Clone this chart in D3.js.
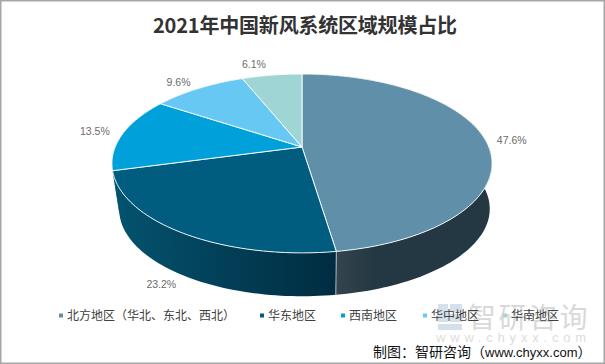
<!DOCTYPE html>
<html>
<head>
<meta charset="utf-8">
<script src="https://cdn.jsdelivr.net/npm/d3@7"></script>
<style>
  html, body { margin: 0; padding: 0; background: #fff; }
  svg { display: block; }
</style>
</head>
<body>
<div id="chart"></div>
<script>
const regions = ['北方地区（华北、东北、西北）', '华东地区', '西南地区', '华中地区', '华南地区'];
const shares = [47.6, 23.2, 13.5, 9.6, 6.1];
const colors = ['#5f8fa9', '#005d7f', '#00a0da', '#67c9f3', '#a0d5d6'];
const sideFrom = ['#34444f', '#04536f', '#007aa8', '#4f9bbb', '#7ba4a5'];
const sideTo = ['#233842', '#002c40', '#005f82', '#3d7a93', '#5f8080'];
const legendX = [59, 260, 341, 423, 503];

const width = 605, height = 364;
const font = '"Noto Sans CJK SC", sans-serif';
const latin = '"Liberation Sans", sans-serif';

const svg = d3.select('#chart').append('svg')
    .attr('width', width)
    .attr('height', height);

// tilted disc: circle in a plane seen in perspective
const tilt = 0.184;
function project(a, r, top) {
    const s = top ? 1 : 0.975;
    const cy = top ? 147 : 193;
    const u = Math.sin(a) * r, v = Math.cos(a) * r;
    const w = 1 + tilt * v;
    const shift = top ? 0 : 2.5 * Math.abs(u);
    return [302 + shift + s * 186.8 * u / w, cy - s * 86.4 * v / w];
}

function arcPoints(d, top) {
    const n = Math.ceil((d.endAngle - d.startAngle) * 40);
    return d3.range(n + 1).map(i => project(d.startAngle + (d.endAngle - d.startAngle) * i / n, 1, top));
}

// wall as a strip of little quads, so the silhouette joins both rims
function wallPath(d) {
    const up = arcPoints(d, true), down = arcPoints(d, false);
    let out = '';
    for (let i = 0; i < up.length - 1; i++) {
        out += line([up[i], up[i + 1], down[i + 1], down[i]]) + 'Z';
    }
    return out;
}

const pie = d3.pie().sort(null).value(d => d);
const slices = pie(shares);
const line = d3.line();
const defs = svg.append('defs');

// watermark goes under everything
const mark = svg.append('g');
mark.append('g').selectAll('rect')
    .data([[438, 304, 10, 18], [450, 304, 12, 8], [450, 314, 12, 8], [438, 324, 24, 6]])
    .enter().append('rect')
    .attr('x', d => d[0]).attr('y', d => d[1])
    .attr('width', d => d[2]).attr('height', d => d[3])
    .attr('fill', '#d5e1ea');
mark.append('text')
    .attr('x', 468).attr('y', 328)
    .attr('font-family', font).attr('font-size', 28)
    .attr('letter-spacing', 2.5)
    .attr('fill', '#d9d9d9')
    .text('智研咨询');
mark.append('text')
    .attr('x', 436).attr('y', 342)
    .attr('font-family', latin).attr('font-size', 13)
    .attr('letter-spacing', 4.8)
    .attr('fill', '#dcdcdc')
    .text('www.chyxx.com');

// side wall, back slices first
slices.forEach((d, i) => {
    const g = defs.append('linearGradient')
        .attr('id', 'side' + i)
        .attr('gradientUnits', 'userSpaceOnUse');
    if (i == 0) {
        g.attr('x1', 336).attr('x2', 375);
    } else {
        g.attr('x1', 114).attr('x2', 336);
    }
    g.attr('y1', 0).attr('y2', 0);
    g.append('stop').attr('offset', 0).attr('stop-color', sideFrom[i]);
    g.append('stop').attr('offset', 1).attr('stop-color', sideTo[i]);
});

svg.append('g').selectAll('path')
    .data(slices.slice().reverse())
    .enter().append('path')
    .attr('d', wallPath)
    .attr('fill', d => `url(#side${d.index})`);

// seam between the two visible wall pieces
svg.append('path')
    .attr('d', line([project(slices[0].endAngle, 1, true), project(slices[0].endAngle, 1, false)]))
    .attr('stroke', '#c9d3d8')
    .attr('stroke-width', 0.8);

svg.append('g').selectAll('path')
    .data(slices)
    .enter().append('path')
    .attr('d', d => line([project(0, 0, true)].concat(arcPoints(d, true))) + 'Z')
    .attr('fill', (d, i) => colors[i])
    .attr('stroke', '#fff')
    .attr('stroke-width', 0.9)
    .attr('stroke-linejoin', 'round');

// labels hang off the rim of each slice
const labelNudge = [[26, 0], [-20, 52], [-28, -2], [-20, -6], [-18, -11]];
svg.append('g').selectAll('text')
    .data(slices)
    .enter().append('text')
    .attr('x', (d, i) => project((d.startAngle + d.endAngle) / 2, 1, true)[0] + labelNudge[i][0])
    .attr('y', (d, i) => project((d.startAngle + d.endAngle) / 2, 1, true)[1] + labelNudge[i][1])
    .attr('dy', '0.35em')
    .attr('text-anchor', 'middle')
    .attr('font-family', latin)
    .attr('font-size', 10.5)
    .attr('fill', '#6b6b6b')
    .text(d => d3.format('.1f')(d.data) + '%');

// legend
const legend = svg.append('g').selectAll('g')
    .data(regions)
    .enter().append('g')
    .attr('transform', (d, i) => `translate(${legendX[i]},315.5)`);
legend.append('rect')
    .attr('x', 0).attr('y', -2)
    .attr('width', 4).attr('height', 4)
    .attr('fill', (d, i) => colors[i]);
legend.append('text')
    .attr('x', 8)
    .attr('dy', '0.36em')
    .attr('font-family', font)
    .attr('font-size', 12)
    .attr('fill', '#404040')
    .text(d => d);

svg.append('text')
    .attr('x', 153).attr('y', 33)
    .attr('font-family', font)
    .attr('font-size', 20)
    .attr('font-weight', 700)
    .attr('fill', '#333')
    .attr('textLength', 304)
    .text('2021年中国新风系统区域规模占比');

const source = svg.append('text')
    .attr('x', 373).attr('y', 357)
    .attr('font-family', font)
    .attr('font-size', 14)
    .attr('fill', '#111');
source.append('tspan').text('制图：智研咨询（');
source.append('tspan').attr('font-family', latin).attr('font-size', 13).text('www.chyxx.com');
source.append('tspan').text('）');

svg.append('rect')
    .attr('x', 0.75).attr('y', 0.75)
    .attr('width', width - 1.5).attr('height', height - 1.5)
    .attr('fill', 'none')
    .attr('stroke', '#a6a6a6')
    .attr('stroke-width', 1.5);
</script>
</body>
</html>
